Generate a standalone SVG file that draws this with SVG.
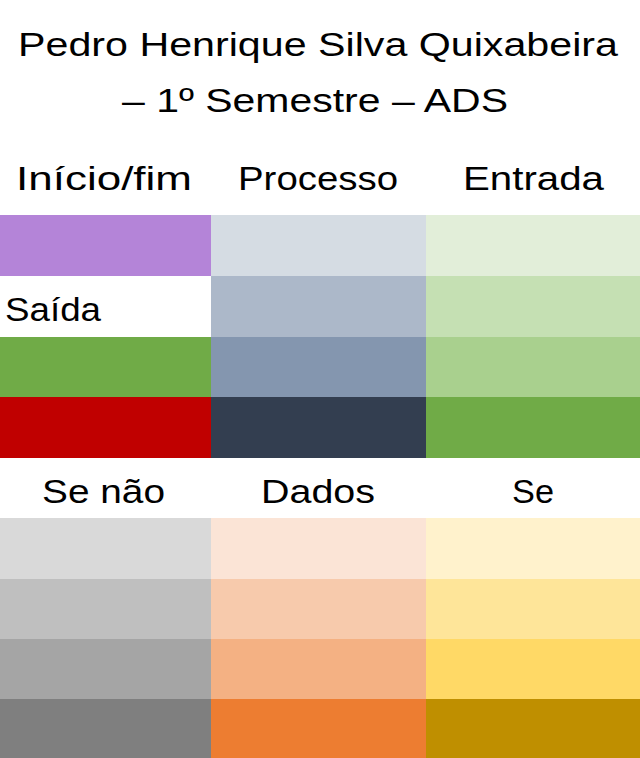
<svg xmlns="http://www.w3.org/2000/svg" width="640" height="758" viewBox="0 0 640 758">
<style>
text{font-family:"Liberation Sans","Noto Sans",sans-serif;font-size:33px;fill:#000}
</style>
<rect x="0" y="0" width="640" height="758" fill="#fff"/>
<g id="title">
<text x="18" y="56" textLength="600" lengthAdjust="spacingAndGlyphs">Pedro Henrique Silva Quixabeira</text>
<text x="122" y="112" textLength="386" lengthAdjust="spacingAndGlyphs">– 1º Semestre – ADS</text>
</g>
<g id="headers1">
<text x="16" y="190" textLength="176" lengthAdjust="spacingAndGlyphs">Início/fim</text>
<text x="238" y="190" textLength="160" lengthAdjust="spacingAndGlyphs">Processo</text>
<text x="463" y="190" textLength="141" lengthAdjust="spacingAndGlyphs">Entrada</text>
</g>
<g id="col-inicio">
<rect x="0" y="215" width="211" height="61" fill="#b484d8"/>
<rect x="0" y="337" width="211" height="60" fill="#70ab47"/>
<rect x="0" y="397" width="211" height="61" fill="#c00000"/>
</g>
<g id="saida"><text x="5" y="321" textLength="96" lengthAdjust="spacingAndGlyphs">Saída</text></g>
<g id="col-processo">
<rect x="211" y="215" width="215" height="61" fill="#d5dce3"/>
<rect x="211" y="276" width="215" height="61" fill="#acb8c9"/>
<rect x="211" y="337" width="215" height="60" fill="#8496af"/>
<rect x="211" y="397" width="215" height="61" fill="#333e50"/>
</g>
<g id="col-entrada">
<rect x="426" y="215" width="214" height="61" fill="#e2eed9"/>
<rect x="426" y="276" width="214" height="61" fill="#c5e0b3"/>
<rect x="426" y="337" width="214" height="60" fill="#a9d08e"/>
<rect x="426" y="397" width="214" height="61" fill="#70ab47"/>
</g>
<g id="headers2">
<text x="42" y="503" textLength="123" lengthAdjust="spacingAndGlyphs">Se não</text>
<text x="261" y="503" textLength="114" lengthAdjust="spacingAndGlyphs">Dados</text>
<text x="512" y="503" textLength="42" lengthAdjust="spacingAndGlyphs">Se</text>
</g>
<g id="col-senao">
<rect x="0" y="518" width="211" height="61" fill="#d9d9d9"/>
<rect x="0" y="579" width="211" height="60" fill="#bfbfbf"/>
<rect x="0" y="639" width="211" height="60" fill="#a5a5a5"/>
<rect x="0" y="699" width="211" height="59" fill="#7f7f7f"/>
</g>
<g id="col-dados">
<rect x="211" y="518" width="215" height="61" fill="#fbe4d6"/>
<rect x="211" y="579" width="215" height="60" fill="#f7caac"/>
<rect x="211" y="639" width="215" height="60" fill="#f4b183"/>
<rect x="211" y="699" width="215" height="59" fill="#ed7d31"/>
</g>
<g id="col-se">
<rect x="426" y="518" width="214" height="61" fill="#fff2cc"/>
<rect x="426" y="579" width="214" height="60" fill="#fee599"/>
<rect x="426" y="639" width="214" height="60" fill="#ffd966"/>
<rect x="426" y="699" width="214" height="59" fill="#bf8f00"/>
</g>
</svg>
